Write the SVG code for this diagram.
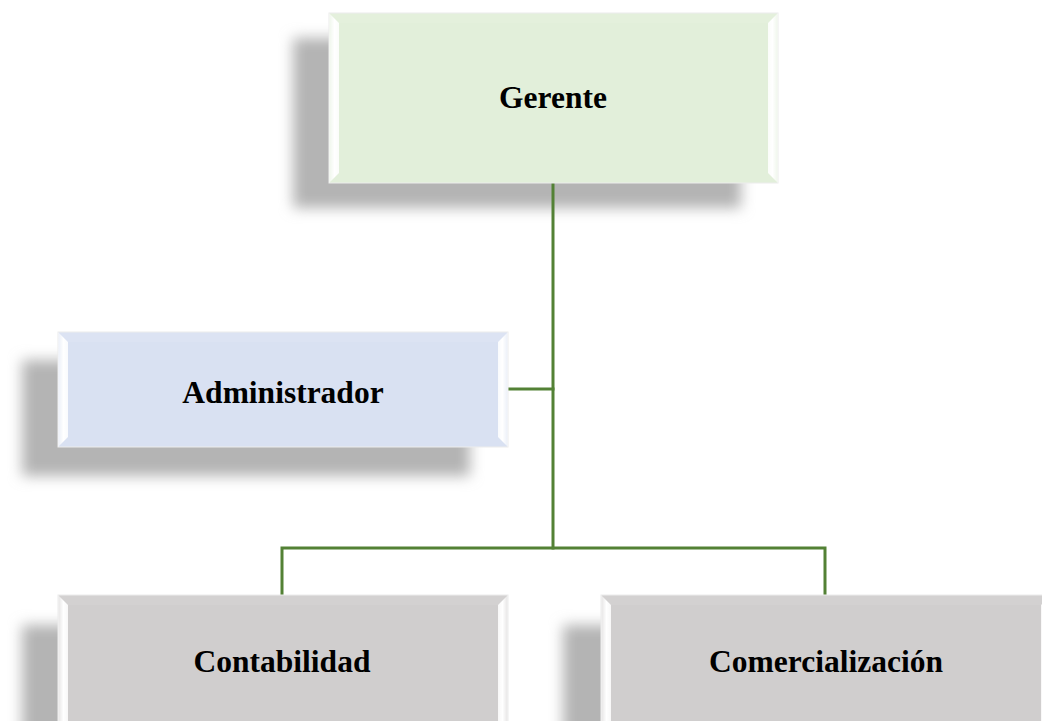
<svg xmlns="http://www.w3.org/2000/svg" width="1042" height="721" viewBox="0 0 1042 721">
  <defs>
    <filter id="soft" x="-20%" y="-30%" width="140%" height="160%">
      <feGaussianBlur stdDeviation="7"/>
    </filter>
    <linearGradient id="bevelL" x1="0" y1="0" x2="1" y2="0">
      <stop offset="0" stop-color="#ffffff" stop-opacity="0.45"/>
      <stop offset="0.55" stop-color="#ffffff" stop-opacity="1"/>
      <stop offset="1" stop-color="#ffffff" stop-opacity="0.85"/>
    </linearGradient>
    <linearGradient id="bevelR" x1="1" y1="0" x2="0" y2="0">
      <stop offset="0" stop-color="#ffffff" stop-opacity="0.45"/>
      <stop offset="0.55" stop-color="#ffffff" stop-opacity="1"/>
      <stop offset="1" stop-color="#ffffff" stop-opacity="0.85"/>
    </linearGradient>
  </defs>
  <style>
    .shadow { fill: #b4b4b4; filter: url(#soft); }
    .box { stroke: #ececec; stroke-width: 1; }
    .green { fill: #e2efda; }
    .blue { fill: #d9e1f2; }
    .gray { fill: #d0cece; }
    .top { fill: #ffffff; fill-opacity: 0.08; }
    .lbl { font-family: "Liberation Serif", "Times New Roman", serif; font-weight: bold; font-size: 31.5px; fill: #000; text-anchor: middle; }
    .wire { stroke: #538135; stroke-width: 3; fill: none; stroke-linecap: square; }
  </style>

  <rect width="1042" height="721" fill="#ffffff"/>

  <!-- drop shadows behind the boxes -->
  <g id="shadows">
    <rect class="shadow" x="293" y="38" width="448" height="170"/>
    <rect class="shadow" x="22" y="360" width="448" height="116"/>
    <rect class="shadow" x="22" y="625" width="448" height="140"/>
    <rect class="shadow" x="563" y="625" width="448" height="140"/>
  </g>

  <!-- connectors -->
  <g id="connectors">
    <line class="wire" x1="553" y1="183" x2="553" y2="548"/>
    <line class="wire" x1="508" y1="389" x2="553" y2="389"/>
    <polyline class="wire" points="282,594 282,548 825,548 825,594"/>
  </g>

  <!-- Gerente -->
  <g id="node-gerente">
    <rect class="box green" x="329" y="13" width="449" height="170"/>
    <polygon points="329,13 339,23 339,173 329,183" fill="url(#bevelL)"/>
    <polygon points="778,13 768,23 768,173 778,183" fill="url(#bevelR)"/>
    <polygon class="top" points="329,13 778,13 768,23 339,23"/>
    <text class="lbl" x="553" y="108">Gerente</text>
  </g>

  <!-- Administrador -->
  <g id="node-administrador">
    <rect class="box blue" x="58" y="332" width="450" height="115"/>
    <polygon points="58,332 68,342 68,437 58,447" fill="url(#bevelL)"/>
    <polygon points="508,332 498,342 498,437 508,447" fill="url(#bevelR)"/>
    <polygon class="top" points="58,332 508,332 498,342 68,342"/>
    <text class="lbl" x="283" y="403">Administrador</text>
  </g>

  <!-- Contabilidad -->
  <g id="node-contabilidad">
    <rect class="box gray" x="58" y="595" width="450" height="170"/>
    <polygon points="58,595 68,605 68,755 58,765" fill="url(#bevelL)"/>
    <polygon points="508,595 498,605 498,755 508,765" fill="url(#bevelR)"/>
    <polygon class="top" points="58,595 508,595 498,605 68,605"/>
    <text class="lbl" x="282" y="672">Contabilidad</text>
  </g>

  <!-- Comercialización -->
  <g id="node-comercializacion">
    <rect class="box gray" x="601" y="595" width="450" height="170"/>
    <polygon points="601,595 611,605 611,755 601,765" fill="url(#bevelL)"/>
    <polygon points="1051,595 1041,605 1041,755 1051,765" fill="url(#bevelR)"/>
    <polygon class="top" points="601,595 1051,595 1041,605 611,605"/>
    <text class="lbl" x="826" y="672">Comercialización</text>
  </g>
</svg>
